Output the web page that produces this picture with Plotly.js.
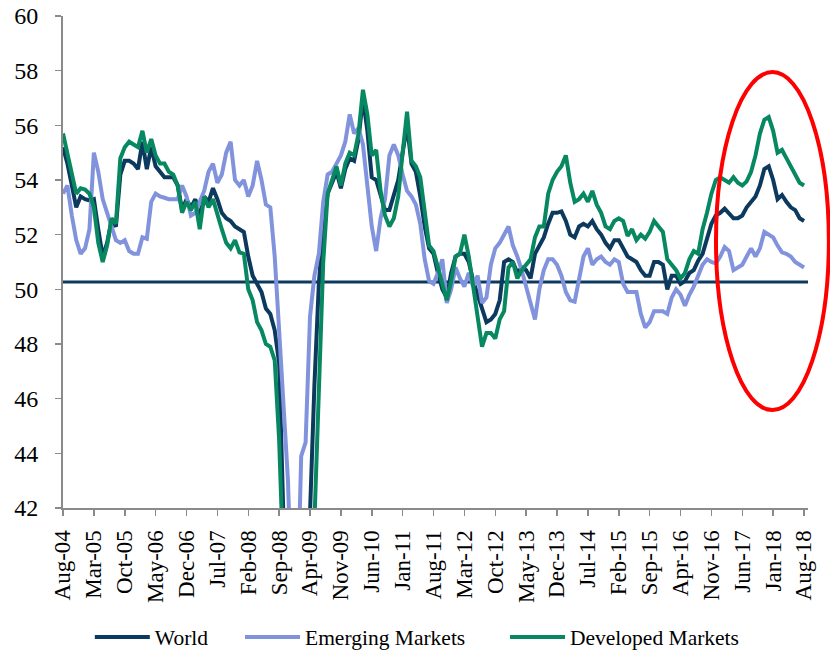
<!DOCTYPE html>
<html>
<head>
<meta charset="utf-8">
<script src="https://cdn.plot.ly/plotly-3.0.1.min.js"></script>
<style>html,body{margin:0;padding:0;background:#fff;}#chart{width:830px;height:651px;}</style>
</head>
<body>
<div id="chart"></div>
<script>
// Monthly PMI readings, Aug-04 .. Aug-18 (169 months)
const tickLabels = ["Aug-04","Mar-05","Oct-05","May-06","Dec-06","Jul-07","Feb-08","Sep-08","Apr-09","Nov-09","Jun-10","Jan-11","Aug-11","Mar-12","Oct-12","May-13","Dec-13","Jul-14","Feb-15","Sep-15","Apr-16","Nov-16","Jun-17","Jan-18","Aug-18"];
const seriesNames = ["World","Emerging Markets","Developed Markets"];

const world = [
55.2,54.6,53.8,53.0,53.4,53.3,53.25,53.3,52.2,51.2,
51.7,52.5,52.3,54.2,54.7,54.7,54.6,54.4,55.4,54.4,
55.2,54.5,54.3,54.1,54.1,54.1,53.8,52.9,53.3,53.0,
53.3,52.6,53.4,53.2,53.7,53.3,52.8,52.6,52.5,52.3,
52.2,52.1,51.2,50.5,50.2,49.9,49.3,49.1,48.5,47.3,
41.5,36,34,34,35.5,38.5,41.8,46.5,50.2,52.3,
53.5,53.9,54.3,53.7,54.4,54.8,54.7,55.5,57.0,55.8,
54.1,54.0,53.5,52.9,52.9,53.5,54.0,55.0,56.0,54.6,
54.3,53.4,52.3,51.5,51.3,50.6,50.0,49.7,50.6,51.2,
51.3,51.3,51.0,50.3,49.8,49.2,48.8,48.9,49.1,49.6,
51.0,51.1,51.0,50.6,50.8,50.7,50.4,51.3,51.6,51.9,
52.4,52.8,52.8,52.85,52.5,52.0,51.9,52.3,52.4,52.3,
52.5,52.2,52.0,51.7,51.5,51.8,51.8,51.5,51.2,51.1,
51.0,50.7,50.5,50.5,51.0,51.0,50.9,50.0,50.5,50.5,
50.2,50.3,50.6,50.7,51.05,51.3,51.8,52.4,52.7,52.8,
52.95,52.8,52.6,52.6,52.7,53.0,53.2,53.4,53.8,54.4,
54.5,54.0,53.3,53.45,53.2,53.0,52.9,52.6,52.5];

const emerging = [
53.5,53.8,52.7,51.8,51.3,51.5,52.2,55.0,54.3,53.3,
52.8,52.3,51.8,51.7,51.8,51.4,51.3,51.3,51.9,51.85,
53.2,53.5,53.4,53.35,53.3,53.3,53.3,53.8,53.4,52.7,
52.8,53.2,53.6,54.3,54.6,53.9,54.2,55.0,55.4,54.0,
53.8,54.0,53.4,53.8,54.7,54.0,53.1,53.0,51.2,48.5,
46.0,43.0,38,37.5,43.9,44.4,49.0,50.5,51.3,53.2,
54.2,54.3,54.6,54.9,55.4,56.4,55.7,55.9,55.3,53.8,
52.3,51.4,52.6,53.3,54.9,55.3,54.9,54.2,53.6,53.4,
53.1,52.4,51.1,50.3,50.2,50.6,51.1,49.5,50.0,50.8,
50.4,50.1,50.6,50.1,50.5,49.5,49.7,50.9,51.5,51.7,
52.0,52.3,51.6,51.2,50.7,50.1,49.5,48.9,50.0,50.7,
51.1,51.1,50.9,50.5,49.9,49.6,49.55,50.4,51.2,51.5,
50.9,51.1,51.2,51.0,50.9,51.1,51.0,50.2,49.9,49.9,
49.9,49.1,48.6,48.8,49.2,49.2,49.2,49.1,49.7,50.0,
49.8,49.4,49.8,50.1,50.5,50.9,51.1,51.0,50.95,51.2,
51.55,51.4,50.7,50.8,50.9,51.2,51.5,51.2,51.5,52.1,
52.0,51.9,51.6,51.35,51.3,51.2,51.0,50.9,50.8];

const developed = [
55.7,55.0,54.3,53.5,53.7,53.65,53.5,53.0,51.7,51.0,
51.6,52.6,52.4,54.8,55.2,55.4,55.3,55.2,55.8,55.0,
55.5,54.9,54.6,54.6,54.3,54.2,53.8,52.8,53.2,52.9,
53.2,52.2,53.4,53.0,53.3,52.7,52.2,51.7,51.5,51.8,
51.35,51.3,50.0,49.6,48.8,48.5,48.0,47.9,47.4,44.5,
37.5,35,33.5,33.5,34.5,36,38.5,41.5,46.5,51.0,
53.5,54.0,54.5,53.8,54.6,55.0,54.9,55.7,57.3,56.4,
54.9,55.1,53.6,52.7,52.3,52.6,53.4,55.0,56.5,54.7,
54.5,54.1,52.9,51.6,51.4,50.8,50.2,49.6,50.3,51.2,
51.3,52.0,51.2,50.1,49.2,47.9,48.4,48.4,48.2,48.9,
49.2,50.8,51.0,50.4,50.7,50.9,51.1,51.9,52.3,52.3,
53.5,54.0,54.3,54.5,54.9,53.9,53.2,53.3,53.5,53.2,
53.6,53.1,52.8,52.3,52.2,52.5,52.6,52.5,51.95,52.2,
51.8,52.0,51.85,52.1,52.5,52.3,52.1,51.1,50.9,50.7,
50.4,50.6,51.1,51.4,51.3,52.2,52.8,53.5,54.0,54.1,
54.0,53.9,54.1,53.9,53.8,53.95,54.3,54.9,55.7,56.2,
56.3,55.8,55.0,55.1,54.8,54.5,54.2,53.9,53.8];

const yTicks = [42,44,46,48,50,52,54,56,58,60];
const refLevel = 50.27;

const monthIdx = world.map((_, i) => i);
const tickIdx = tickLabels.map((_, i) => i * 7);

const colors = ["#0b3a5e", "#8193dc", "#078861"];
const FONT = "Liberation Serif, Times New Roman, serif";
const seriesData = [world, emerging, developed];
const legendIds = ["legend", "legend2", "legend3"];

const traces = seriesData.map((ys, k) => ({
  type: "scatter", mode: "lines", x: monthIdx, y: ys, name: seriesNames[k],
  line: {color: colors[k], width: 4}, legend: legendIds[k], hoverinfo: "skip"
}));

function legendBox(xp) {
  return {x: xp, y: -0.262, xanchor: "left", yanchor: "middle", orientation: "h",
    font: {family: FONT, size: 21.5, color: "#000"}, itemwidth: 55, bgcolor: "rgba(0,0,0,0)",
    borderwidth: 0};
}

const layout = {
  width: 830, height: 651,
  margin: {l: 63, r: 22, t: 16, b: 143, autoexpand: false},
  paper_bgcolor: "#fff", plot_bgcolor: "#fff",
  showlegend: true,
  xaxis: {
    range: [0, 168.9], tickmode: "array", tickvals: tickIdx, ticktext: tickLabels,
    tickangle: -90, ticks: "outside", ticklen: 6, tickwidth: 1.5, tickcolor: "#8a8a8a",
    showline: true, linecolor: "#8a8a8a", linewidth: 2, showgrid: false, zeroline: false,
    automargin: false,
    tickfont: {family: FONT, size: 23, color: "#000"}, ticklabelstandoff: 5
  },
  yaxis: {
    range: [42, 60], tickmode: "array", tickvals: yTicks,
    ticks: "outside", ticklen: 6, tickwidth: 1.5, tickcolor: "#8a8a8a",
    showline: true, linecolor: "#8a8a8a", linewidth: 2, showgrid: false, zeroline: false,
    automargin: false,
    tickfont: {family: FONT, size: 24, color: "#000"}, ticklabelstandoff: 12
  },
  legend: legendBox(0.036),
  legend2: legendBox(0.2376),
  legend3: legendBox(0.5933),
  shapes: [
    {type: "line", xref: "paper", yref: "y", x0: 0, x1: 1, y0: refLevel, y1: refLevel,
     line: {color: "#0b3a5e", width: 3}, layer: "below"},
    {type: "circle", xref: "paper", yref: "paper", x0: 0.8765, x1: 1.028, y0: 0.199, y1: 0.886,
     line: {color: "#ff0000", width: 4}}
  ]
};

Plotly.newPlot("chart", traces, layout, {staticPlot: true, displayModeBar: false});
</script>
</body>
</html>
